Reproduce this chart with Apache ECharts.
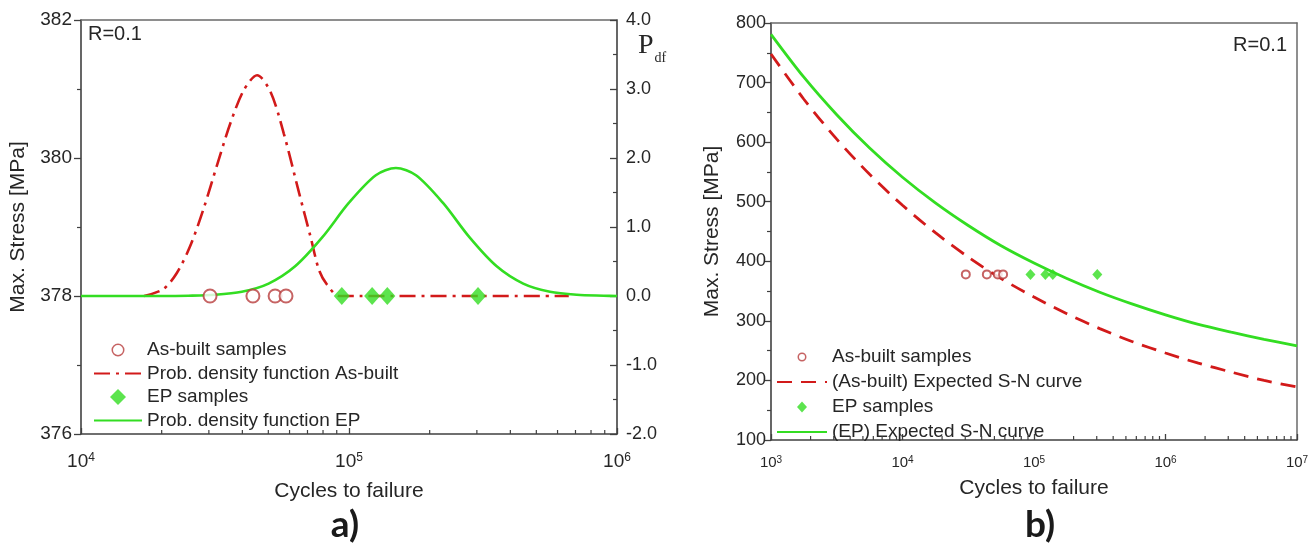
<!DOCTYPE html>
<html><head><meta charset="utf-8">
<script src="https://cdn.jsdelivr.net/npm/echarts@6/dist/echarts.min.js"></script>
<style>html,body{margin:0;padding:0;background:#fff}#c{width:1316px;height:552px}</style>
</head><body><div id="c"></div>
<script>
// ---- data (panel a) ----
const asBuiltN = [30300, 43800, 53000, 58200];
const epN = [94000, 122000, 139000, 303000];
const sampleStress = 378;
const pdfAsBuiltN = [17200, 20280, 22750, 25530, 28640, 32140, 36060, 40460, 45390, 50930, 57150, 65160, 71940, 77270, 82600, 91830, 110000, 660700];
const pdfAsBuiltP = [0.0, 0.10, 0.33, 0.72, 1.26, 1.89, 2.50, 2.98, 3.2, 2.96, 2.35, 1.49, 0.85, 0.377, 0.17, 0.0, 0.0, 0.0];
const pdfEpN = [10000, 19950, 25120, 31620, 39810, 50120, 63100, 79430, 100000, 125900, 149600, 177800, 223900, 281800, 354800, 446700, 562300, 707900, 891300, 1000000];
const pdfEpP = [0.0, 0.0, 0.004, 0.017, 0.061, 0.180, 0.434, 0.849, 1.352, 1.750, 1.855, 1.750, 1.352, 0.849, 0.434, 0.180, 0.061, 0.017, 0.004, 0.0];
// ---- data (panel b) ----
const snN = [1000, 1778, 3162, 5623, 10000, 17780, 31620, 56230, 100000, 177800, 316200, 562300, 1000000, 1778000, 3162000, 5623000, 10000000];
const snAsBuilt = [748, 672, 605, 546, 494, 448, 407, 371, 340, 312, 287, 265, 246, 229, 214, 200, 189];
const snEp = [781, 709, 646, 590, 541, 498, 460, 426, 397, 371, 348, 328, 310, 294, 281, 269, 258];
// ---- tick values ----
const minorTicksA = [2e4,3e4,4e4,5e4,6e4,7e4,8e4,9e4,2e5,3e5,4e5,5e5,6e5,7e5,8e5,9e5];
const minorTicksB = [2e3,3e3,4e3,5e3,6e3,7e3,8e3,9e3,2e4,3e4,4e4,5e4,6e4,7e4,8e4,9e4,2e5,3e5,4e5,5e5,6e5,7e5,8e5,9e5,2e6,3e6,4e6,5e6,6e6,7e6,8e6,9e6];

const FONT = 'Liberation Sans, Arial, sans-serif';
const TXT = '#262626';
const AX = '#404040';
const RED = '#d21a1a';
const CIRC = '#b83c3c';
const GREEN = '#33dd22';

// legend icon shapes (padded so the box keeps its aspect)
const ICON_RING_A = 'path://M0,0L0,0M48,16L48,16M17.5,8A6.5,6.5,0,1,0,30.5,8A6.5,6.5,0,1,0,17.5,8ZM19,8A5,5,0,1,1,29,8A5,5,0,1,1,19,8Z';
const ICON_DIAM_A = 'path://M0,0L0,0M48,16L48,16M24,0L32,8L24,16L16,8Z';
const ICON_RING_B = 'path://M0,0L0,0M50,12L50,12M20.5,6A4.5,4.5,0,1,0,29.5,6A4.5,4.5,0,1,0,20.5,6ZM22,6A3,3,0,1,1,28,6A3,3,0,1,1,22,6Z';
const ICON_DIAM_B = 'path://M0,0L0,0M50,12L50,12M25,0.5L30,6L25,11.5L20,6Z';

const chart = echarts.init(document.getElementById('c'), null, {renderer: 'canvas'});

function pairs(xs, ys) { return xs.map((x, i) => [x, ys[i]]); }

function logLabel(size, supSize, margin) {
  return {
    formatter: v => '10{s|' + Math.round(Math.log10(v)) + '}',
    fontSize: size, color: TXT, fontFamily: FONT, margin: margin,
    rich: {s: {fontSize: supSize, color: TXT, fontFamily: FONT, verticalAlign: 'top'}}
  };
}

function minorTickSeries(xi, yi, vals, yBase) {
  return {
    type: 'custom', xAxisIndex: xi, yAxisIndex: yi, silent: true, z: 10, clip: false,
    data: vals.map(v => [v, yBase]),
    renderItem: (params, api) => {
      const p = api.coord([api.value(0), api.value(1)]);
      return {type: 'line', shape: {x1: p[0], y1: p[1], x2: p[0], y2: p[1] - 4},
              style: {stroke: AX, lineWidth: 1.2}};
    }
  };
}

const borderAxis = (grid, pos, type, min, max) => ({
  type: type, gridIndex: grid, position: pos, min: min, max: max,
  axisLine: {show: true, onZero: false, lineStyle: {color: '#6a6a6a', width: 1.5}},
  axisTick: {show: false}, axisLabel: {show: false}, splitLine: {show: false}
});

const option = {
  backgroundColor: '#fff',
  animation: false,
  textStyle: {fontFamily: FONT},
  grid: [
    {left: 81, top: 20, width: 536, height: 414},
    {left: 771, top: 23, width: 526, height: 417}
  ],
  xAxis: [
    {type: 'log', logBase: 10, gridIndex: 0, min: 1e4, max: 1e6, position: 'bottom',
     name: 'Cycles to failure', nameLocation: 'middle', nameGap: 47,
     nameTextStyle: {fontSize: 21, color: TXT, fontFamily: FONT},
     axisLine: {onZero: false, lineStyle: {color: AX, width: 1.6}},
     axisTick: {inside: true, length: 6, lineStyle: {color: AX, width: 1.3}},
     minorTick: {show: false}, splitLine: {show: false},
     axisLabel: logLabel(19, 12, 18)},
    borderAxis(0, 'top', 'log', 1e4, 1e6),
    {type: 'log', logBase: 10, gridIndex: 1, min: 1e3, max: 1e7, position: 'bottom',
     name: 'Cycles to failure', nameLocation: 'middle', nameGap: 38,
     nameTextStyle: {fontSize: 21, color: TXT, fontFamily: FONT},
     axisLine: {onZero: false, lineStyle: {color: AX, width: 1.6}},
     axisTick: {inside: true, length: 6, lineStyle: {color: AX, width: 1.3}},
     minorTick: {show: false}, splitLine: {show: false},
     axisLabel: logLabel(15, 10, 15)},
    borderAxis(1, 'top', 'log', 1e3, 1e7)
  ],
  yAxis: [
    {type: 'value', gridIndex: 0, position: 'left', min: 376, max: 382, interval: 2,
     name: 'Max. Stress [MPa]', nameLocation: 'middle', nameGap: 52,
     nameTextStyle: {fontSize: 21, color: TXT, fontFamily: FONT},
     axisLine: {show: true, onZero: false, lineStyle: {color: AX, width: 1.6}},
     axisTick: {show: true, length: 7, lineStyle: {color: AX, width: 1.3}},
     minorTick: {show: true, splitNumber: 2, length: 4, lineStyle: {color: AX, width: 1.2}},
     splitLine: {show: false},
     axisLabel: {fontSize: 19, color: TXT, fontFamily: FONT, margin: 9}},
    {type: 'value', gridIndex: 0, position: 'right', min: -2, max: 4, interval: 1,
     axisLine: {show: true, onZero: false, lineStyle: {color: AX, width: 1.6}},
     axisTick: {show: true, inside: true, length: 7, lineStyle: {color: AX, width: 1.3}},
     minorTick: {show: true, splitNumber: 2, length: 4, lineStyle: {color: AX, width: 1.2}},
     splitLine: {show: false},
     axisLabel: {fontSize: 18, color: TXT, fontFamily: FONT, margin: 9, formatter: v => v.toFixed(1)}},
    {type: 'value', gridIndex: 1, position: 'left', min: 100, max: 800, interval: 100,
     name: 'Max. Stress [MPa]', nameLocation: 'middle', nameGap: 48,
     nameTextStyle: {fontSize: 21, color: TXT, fontFamily: FONT},
     axisLine: {show: true, onZero: false, lineStyle: {color: AX, width: 1.6}},
     axisTick: {show: true, length: 7, lineStyle: {color: AX, width: 1.3}},
     minorTick: {show: true, splitNumber: 2, length: 4, lineStyle: {color: AX, width: 1.2}},
     splitLine: {show: false},
     axisLabel: {fontSize: 18, color: TXT, fontFamily: FONT, margin: 5}},
    {type: 'value', gridIndex: 1, position: 'right', min: 100, max: 800,
     axisLine: {show: true, onZero: false, lineStyle: {color: '#6a6a6a', width: 1.5}},
     axisTick: {show: false}, axisLabel: {show: false}, splitLine: {show: false}}
  ],
  legend: [
    {left: 88, top: 335, orient: 'vertical', itemWidth: 48, itemHeight: 16, itemGap: 3.5,
     selectedMode: false,
     textStyle: {fontSize: 19, lineHeight: 20, color: TXT, fontFamily: FONT},
     data: [
       {name: 'As-built samples', icon: ICON_RING_A, itemStyle: {color: CIRC, borderWidth: 0}},
       {name: 'Prob. density function As-built', itemStyle: {opacity: 0}},
       {name: 'EP samples', icon: ICON_DIAM_A, itemStyle: {color: GREEN, borderWidth: 0}},
       {name: 'Prob. density function EP', itemStyle: {opacity: 0}}
     ]},
    {left: 771, top: 342, orient: 'vertical', itemWidth: 50, itemHeight: 12, itemGap: 5,
     selectedMode: false,
     textStyle: {fontSize: 19, lineHeight: 20, color: TXT, fontFamily: FONT},
     data: [
       {name: 'As-built samples ', icon: ICON_RING_B, itemStyle: {color: CIRC, borderWidth: 0}},
       {name: '(As-built) Expected S-N curve', itemStyle: {opacity: 0}},
       {name: 'EP samples ', icon: ICON_DIAM_B, itemStyle: {color: GREEN, borderWidth: 0}},
       {name: '(EP) Expected S-N curve', itemStyle: {opacity: 0}}
     ]}
  ],
  graphic: [
    {type: 'text', left: 88, top: 24, style: {text: 'R=0.1', fontSize: 20, fill: TXT, fontFamily: FONT}},
    {type: 'text', right: 29, top: 35, style: {text: 'R=0.1', fontSize: 20, fill: TXT, fontFamily: FONT}},
    {type: 'text', left: 638, top: 32, style: {
      text: '{p|P}{d|df}', rich: {
        p: {fontSize: 28, fontFamily: 'Liberation Serif, serif', fill: TXT, verticalAlign: 'bottom'},
        d: {fontSize: 14, fontFamily: 'Liberation Serif, serif', fill: TXT, verticalAlign: 'bottom', padding: [0, 0, -5, 1]}
      }}},
    {type: 'text', x: 345, y: 507, style: {text: 'a)', fontSize: 37, fontWeight: 'bold', fill: '#1a1a1a', fontFamily: 'Lato, Open Sans, sans-serif', align: 'center'}},
    {type: 'text', x: 1040, y: 507, style: {text: 'b)', fontSize: 37, fontWeight: 'bold', fill: '#1a1a1a', fontFamily: 'Lato, Open Sans, sans-serif', align: 'center'}}
  ],
  series: [
    {name: 'Prob. density function As-built', type: 'line', xAxisIndex: 0, yAxisIndex: 1,
     data: pairs(pdfAsBuiltN, pdfAsBuiltP), smooth: 0.3, symbol: 'none', showSymbol: false,
     lineStyle: {color: RED, width: 2.6, type: [16, 6, 3, 6]}, itemStyle: {color: RED}, z: 2},
    {name: 'Prob. density function EP', type: 'line', xAxisIndex: 0, yAxisIndex: 1,
     data: pairs(pdfEpN, pdfEpP), smooth: 0.3, symbol: 'none', showSymbol: false,
     lineStyle: {color: GREEN, width: 2.6}, itemStyle: {color: GREEN}, z: 3},
    {name: 'As-built samples', type: 'scatter', xAxisIndex: 0, yAxisIndex: 0,
     data: asBuiltN.map(n => [n, sampleStress]), symbol: 'emptyCircle', symbolSize: 13,
     itemStyle: {color: CIRC, borderColor: CIRC, borderWidth: 1.6}, z: 5},
    {name: 'EP samples', type: 'scatter', xAxisIndex: 0, yAxisIndex: 0,
     data: epN.map(n => [n, sampleStress]), symbol: 'diamond', symbolSize: [16, 18],
     itemStyle: {color: GREEN}, z: 5},
    {name: '(As-built) Expected S-N curve', type: 'line', xAxisIndex: 2, yAxisIndex: 2,
     data: pairs(snN, snAsBuilt), smooth: 0.3, symbol: 'none', showSymbol: false,
     lineStyle: {color: RED, width: 2.8, type: [15, 9]}, itemStyle: {color: RED}, z: 2},
    {name: '(EP) Expected S-N curve', type: 'line', xAxisIndex: 2, yAxisIndex: 2,
     data: pairs(snN, snEp), smooth: 0.3, symbol: 'none', showSymbol: false,
     lineStyle: {color: GREEN, width: 2.8}, itemStyle: {color: GREEN}, z: 3},
    {name: 'As-built samples ', type: 'scatter', xAxisIndex: 2, yAxisIndex: 2,
     data: asBuiltN.map(n => [n, sampleStress]), symbol: 'emptyCircle', symbolSize: 8,
     itemStyle: {color: CIRC, borderColor: CIRC, borderWidth: 1.4}, z: 5},
    {name: 'EP samples ', type: 'scatter', xAxisIndex: 2, yAxisIndex: 2,
     data: epN.map(n => [n, sampleStress]), symbol: 'diamond', symbolSize: [10, 11],
     itemStyle: {color: GREEN}, z: 5},
    minorTickSeries(0, 0, minorTicksA, 376),
    minorTickSeries(2, 2, minorTicksB, 100)
  ]
};
chart.setOption(option);
</script>
</body></html>
